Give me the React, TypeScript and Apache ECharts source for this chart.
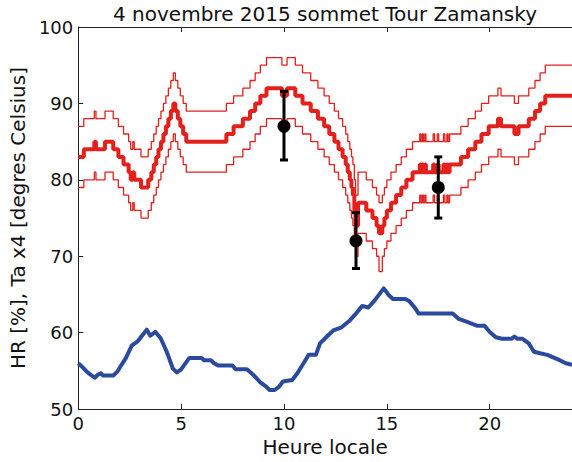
import React, { useEffect, useRef } from "react";
import * as echarts from "echarts";

const TITLE = "4 novembre 2015 sommet Tour Zamansky";
const X_NAME = "Heure locale";
const Y_NAME = "HR [%], Ta x4 [degres Celsius]";
const X_TICKS = [0, 5, 10, 15, 20];

// HR (%), step data [hour, value]
const HR: number[][] = [
  [0, 83], [0.27, 84], [0.78, 85], [0.86, 84], [1.3, 85], [1.7, 84], [1.95, 83], [2.2, 82], [2.45, 81],
  [2.55, 80], [2.65, 81], [2.72, 80], [3.05, 79], [3.4, 80], [3.55, 81], [3.67, 82], [3.79, 83], [3.9, 84],
  [4.02, 85], [4.14, 86], [4.26, 87], [4.38, 88], [4.5, 89], [4.62, 90], [4.72, 89], [4.84, 88], [4.96, 87],
  [5.1, 86], [5.25, 85], [7.2, 86], [7.55, 87], [8.0, 88], [8.35, 89], [8.6, 90], [8.85, 91], [9.15, 92],
  [9.9, 91], [10.15, 92], [10.55, 91], [10.9, 90], [11.3, 89], [11.65, 88], [11.95, 87], [12.2, 86],
  [12.45, 85], [12.65, 84], [12.85, 83], [13.0, 82], [13.1, 81], [13.2, 80], [13.28, 79], [13.35, 78],
  [13.42, 76], [13.48, 74], [13.6, 77], [14.0, 76], [14.3, 75], [14.5, 74], [14.62, 73], [14.78, 74],
  [14.88, 75], [15.0, 76], [15.2, 77], [15.45, 78], [15.7, 79], [15.95, 80], [16.25, 81], [16.6, 82],
  [16.65, 81], [16.72, 82], [16.78, 81], [16.85, 82], [16.9, 81], [17.25, 82], [17.32, 81], [17.45, 82],
  [17.52, 81], [17.75, 82], [17.82, 81], [17.92, 82], [17.98, 81], [18.05, 82], [18.6, 83], [18.95, 84],
  [19.3, 85], [19.6, 86], [19.95, 87], [20.4, 88], [20.55, 87], [21.2, 86], [21.4, 87], [21.9, 88],
  [22.2, 89], [22.45, 90], [22.7, 91], [24, 91],
];

// HR upper bound
const HR_HIGH: number[][] = [
  [0, 87], [0.27, 88], [0.78, 89], [0.86, 88], [1.3, 89], [1.7, 88], [1.95, 87], [2.2, 86], [2.45, 85],
  [2.55, 84], [2.65, 85], [2.72, 84], [3.05, 83], [3.4, 84], [3.55, 85], [3.67, 86], [3.79, 87], [3.9, 88],
  [4.02, 89], [4.14, 90], [4.26, 91], [4.38, 92], [4.5, 93], [4.62, 94], [4.72, 93], [4.84, 92], [4.96, 91],
  [5.1, 90], [5.25, 89], [7.2, 90], [7.55, 91], [8.0, 92], [8.35, 93], [8.6, 94], [8.85, 95], [9.15, 96],
  [9.9, 95], [10.15, 96], [10.55, 95], [10.9, 94], [11.3, 93], [11.65, 92], [11.95, 91], [12.2, 90],
  [12.45, 89], [12.65, 88], [12.85, 87], [13.0, 86], [13.1, 85], [13.2, 84], [13.28, 83], [13.35, 82],
  [13.42, 80], [13.48, 78], [13.6, 81], [14.0, 80], [14.3, 79], [14.5, 78], [14.62, 77], [14.78, 78],
  [14.88, 79], [15.0, 80], [15.2, 81], [15.45, 82], [15.7, 83], [15.95, 84], [16.25, 85], [16.6, 86],
  [16.65, 85], [16.72, 86], [16.78, 85], [16.85, 86], [16.9, 85], [17.25, 86], [17.32, 85], [17.45, 86],
  [17.52, 85], [17.75, 86], [17.82, 85], [17.92, 86], [17.98, 85], [18.05, 86], [18.6, 87], [18.95, 88],
  [19.3, 89], [19.6, 90], [19.95, 91], [20.4, 92], [20.55, 91], [21.2, 90], [21.4, 91], [21.9, 92],
  [22.2, 93], [22.45, 94], [22.7, 95], [24, 95],
];

// HR lower bound
const HR_LOW: number[][] = [
  [0, 79], [0.27, 80], [0.78, 81], [0.86, 80], [1.3, 81], [1.7, 80], [1.95, 79], [2.2, 78], [2.45, 77],
  [2.55, 76], [2.65, 77], [2.72, 76], [3.05, 75], [3.4, 76], [3.55, 77], [3.67, 78], [3.79, 79], [3.9, 80],
  [4.02, 81], [4.14, 82], [4.26, 83], [4.38, 84], [4.5, 85], [4.62, 86], [4.72, 85], [4.84, 84], [4.96, 83],
  [5.1, 82], [5.25, 81], [7.2, 82], [7.55, 83], [8.0, 84], [8.35, 85], [8.6, 86], [8.85, 87], [9.15, 88],
  [9.9, 87], [10.15, 88], [10.55, 87], [10.9, 86], [11.3, 85], [11.65, 84], [11.95, 83], [12.2, 82],
  [12.45, 81], [12.65, 80], [12.85, 79], [13.0, 78], [13.1, 77], [13.2, 76], [13.28, 75], [13.35, 74],
  [13.42, 72], [13.48, 70], [13.6, 73], [14.0, 72], [14.3, 71], [14.5, 70], [14.62, 68], [14.78, 70],
  [14.88, 71], [15.0, 72], [15.2, 73], [15.45, 74], [15.7, 75], [15.95, 76], [16.25, 77], [16.6, 78],
  [16.65, 77], [16.72, 78], [16.78, 77], [16.85, 78], [16.9, 77], [17.25, 78], [17.32, 77], [17.45, 78],
  [17.52, 77], [17.75, 78], [17.82, 77], [17.92, 78], [17.98, 77], [18.05, 78], [18.6, 79], [18.95, 80],
  [19.3, 81], [19.6, 82], [19.95, 83], [20.4, 84], [20.55, 83], [21.2, 82], [21.4, 83], [21.9, 84],
  [22.2, 85], [22.45, 86], [22.7, 87], [24, 87],
];

// Ta x4
const TA4: number[][] = [
  [0, 56], [0.2, 55.5], [0.45, 54.8], [0.8, 54.1], [0.95, 54.5], [1.1, 54.7], [1.2, 54.4], [1.7, 54.4],
  [1.9, 54.9], [2.1, 55.8], [2.3, 56.6], [2.6, 58.3], [2.9, 58.9], [3.1, 59.6], [3.33, 60.4], [3.5, 59.6],
  [3.75, 60.1], [4.0, 59.3], [4.3, 57.5], [4.6, 55.3], [4.8, 54.8], [5.0, 55.2], [5.4, 56.7], [6.0, 56.7],
  [6.1, 56.4], [6.45, 56.4], [6.6, 56], [6.8, 55.7], [7.5, 55.7], [7.65, 55.2], [8.2, 55.2], [8.5, 54.5],
  [8.85, 53.5], [9.15, 52.9], [9.3, 52.5], [9.55, 52.5], [9.75, 52.9], [9.95, 53.6], [10.4, 53.8],
  [10.65, 54.7], [10.95, 56], [11.2, 57.1], [11.55, 57.1], [11.75, 58.6], [12.05, 59.4], [12.4, 60.3],
  [12.8, 60.7], [13.2, 61.6], [13.5, 62.5], [13.8, 63.5], [14.1, 63.3], [14.4, 64.2], [14.85, 65.8],
  [15.1, 64.9], [15.3, 64.4], [15.9, 64.4], [16.1, 64.1], [16.35, 63.3], [16.55, 62.5], [18.2, 62.5],
  [18.5, 61.8], [18.9, 61.4], [19.4, 60.9], [19.75, 60.9], [20.0, 60.1], [20.3, 59.4], [20.6, 59.2],
  [21.05, 59.2], [21.2, 59.5], [21.35, 59.2], [21.6, 59.2], [21.9, 58.6], [22.15, 57.5], [22.45, 57.3],
  [22.8, 57.1], [23.4, 56.4], [23.7, 56], [24, 55.8],
];

// Reference measurements: [hour, value, low, high]
const MEAS_X = [10, 13.5, 17.5];
const MEAS_Y = [87, 72, 79];
const MEAS_LOW = [82.6, 68.4, 75];
const MEAS_HIGH = [91.6, 75.7, 83];

const FONT = "DejaVu Sans";
const RED = "#e3201c";
const BLUE = "#2a4a9e";

export default function App() {
  const ref = useRef<HTMLDivElement>(null);
  useEffect(() => {
    if (!ref.current) return;
    const chart = echarts.init(ref.current, null, { renderer: "svg" });
    const measData = MEAS_X.map((x, i) => [x, MEAS_Y[i], MEAS_LOW[i], MEAS_HIGH[i]]);
    const axisLine = { show: true, lineStyle: { color: "#222", width: 1 } };
    const tick = { show: true, inside: true, length: 5, lineStyle: { color: "#222", width: 1 } };
    chart.setOption({
      animation: false,
      grid: { left: 74.5, right: -4, top: 27, bottom: 51 },
      graphic: [
        {
          type: "text",
          x: 325,
          y: 14,
          style: {
            text: TITLE,
            font: `20px "${FONT}"`,
            fill: "#111",
            textAlign: "center",
            textVerticalAlign: "middle",
          },
        },
      ],
      xAxis: [
        {
          type: "value",
          min: 0,
          max: 24,
          interval: 5,
          name: X_NAME,
          nameLocation: "middle",
          nameGap: 27,
          nameTextStyle: { fontFamily: FONT, fontSize: 20, color: "#111" },
          axisLine,
          axisTick: tick,
          splitLine: { show: false },
          axisLabel: {
            fontFamily: FONT,
            fontSize: 18,
            color: "#111",
            margin: 5,
            showMaxLabel: false,
            formatter: (v: number) => (X_TICKS.includes(v) ? String(v) : ""),
          },
        },
        {
          type: "value",
          position: "top",
          min: 0,
          max: 24,
          interval: 5,
          axisLine,
          axisTick: tick,
          splitLine: { show: false },
          axisLabel: { show: false },
        },
      ],
      yAxis: [
        {
          type: "value",
          min: 50,
          max: 100,
          interval: 10,
          name: Y_NAME,
          nameLocation: "middle",
          nameGap: 46,
          nameTextStyle: { fontFamily: FONT, fontSize: 20, color: "#111" },
          axisLine,
          axisTick: tick,
          splitLine: { show: false },
          axisLabel: { fontFamily: FONT, fontSize: 18, color: "#111", margin: 5 },
        },
      ],
      series: [
        {
          type: "line",
          data: HR_HIGH,
          step: "end",
          showSymbol: false,
          symbol: "none",
          lineStyle: { color: RED, width: 1.3 },
          z: 2,
        },
        {
          type: "line",
          data: HR_LOW,
          step: "end",
          showSymbol: false,
          symbol: "none",
          lineStyle: { color: RED, width: 1.3 },
          z: 2,
        },
        {
          type: "line",
          data: HR,
          step: "end",
          showSymbol: false,
          symbol: "none",
          lineStyle: { color: RED, width: 4 },
          z: 3,
        },
        {
          type: "line",
          data: TA4,
          showSymbol: false,
          symbol: "none",
          lineStyle: { color: BLUE, width: 4, join: "round" },
          z: 3,
        },
        {
          type: "custom",
          data: measData,
          encode: { x: 0, y: [2, 3] },
          z: 5,
          renderItem: (params: any, api: any) => {
            const x = api.value(0);
            const lo = api.coord([x, api.value(2)]);
            const hi = api.coord([x, api.value(3)]);
            const cap = 4;
            const st = { stroke: "#000", lineWidth: 3 };
            return {
              type: "group",
              children: [
                { type: "line", shape: { x1: lo[0], y1: lo[1], x2: hi[0], y2: hi[1] }, style: st },
                { type: "line", shape: { x1: lo[0] - cap, y1: lo[1], x2: lo[0] + cap, y2: lo[1] }, style: st },
                { type: "line", shape: { x1: hi[0] - cap, y1: hi[1], x2: hi[0] + cap, y2: hi[1] }, style: st },
              ],
            };
          },
        },
        {
          type: "scatter",
          data: MEAS_X.map((x, i) => [x, MEAS_Y[i]]),
          symbol: "circle",
          symbolSize: 13,
          itemStyle: { color: "#000", opacity: 1 },
          z: 6,
        },
      ],
    });
    return () => chart.dispose();
  }, []);
  return (
    <div
      ref={ref}
      style={{ position: "fixed", left: 0, top: 0, width: 572, height: 462, background: "#fff" }}
    />
  );
}
